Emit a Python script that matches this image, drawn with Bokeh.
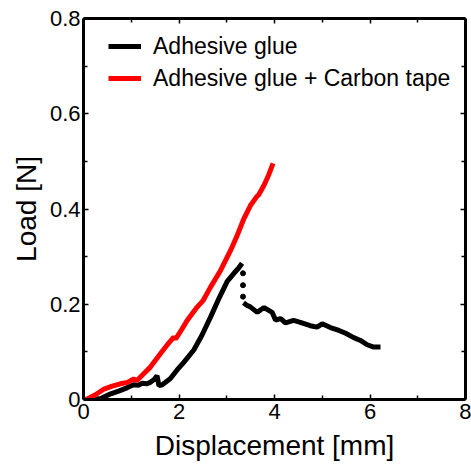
from bokeh.plotting import figure
from bokeh.models import (Range1d, FixedTicker, LinearAxis, Legend, LegendItem,
                          CustomJSTickFormatter)
from bokeh.embed import file_html
from bokeh.resources import INLINE

# ---- data ----
glue_x = [0.0, 0.2, 0.36, 0.57, 0.75, 0.92, 1.05, 1.15, 1.23, 1.32, 1.40, 1.48, 1.54, 1.58, 1.65,
          1.82, 1.96, 2.10, 2.31, 2.48, 2.66, 2.84, 3.01, 3.15, 3.25, 3.32]
glue_y = [0.0, 0.0, 0.002, 0.012, 0.018, 0.025, 0.031, 0.030, 0.034, 0.033, 0.036, 0.042, 0.050, 0.029, 0.031,
          0.044, 0.062, 0.078, 0.104, 0.135, 0.173, 0.213, 0.248, 0.265, 0.276, 0.286]
drop_x = [3.34, 3.34, 3.34]
drop_y = [0.265, 0.240, 0.216]
tail_x = [3.35, 3.42, 3.50, 3.64, 3.72, 3.78, 3.88, 3.95, 4.02, 4.13, 4.23, 4.40, 4.54, 4.75,
          4.89, 5.00, 5.17, 5.35, 5.49, 5.66, 5.80, 5.94, 6.08, 6.22]
tail_y = [0.203, 0.198, 0.194, 0.183, 0.189, 0.193, 0.187, 0.183, 0.167, 0.170, 0.161, 0.166, 0.162, 0.155,
          0.152, 0.159, 0.151, 0.145, 0.139, 0.130, 0.124, 0.115, 0.110, 0.110]

tape_x = [0.0, 0.08, 0.25, 0.43, 0.60, 0.77, 0.92, 1.05, 1.12, 1.25, 1.40, 1.61, 1.78, 1.89, 1.93,
          2.05, 2.17, 2.38, 2.50, 2.66, 2.87, 3.08, 3.20, 3.36, 3.50, 3.62, 3.67, 3.78, 3.88, 3.97]
tape_y = [0.0, 0.001, 0.010, 0.022, 0.028, 0.033, 0.036, 0.043, 0.040, 0.053, 0.068, 0.096, 0.118, 0.131, 0.127,
          0.146, 0.166, 0.194, 0.207, 0.236, 0.271, 0.313, 0.340, 0.380, 0.408, 0.425, 0.430, 0.450, 0.472, 0.496]

x_ticks = [0, 2, 4, 6, 8]
x_minor = [1, 3, 5, 7]
y_ticks = [0, 0.2, 0.4, 0.6, 0.8]
y_minor = [0.1, 0.3, 0.5, 0.7]

FONT = "Liberation Sans"

p = figure(width=471, height=469, output_backend="svg", toolbar_location=None,
           x_range=Range1d(0, 8), y_range=Range1d(0, 0.8),
           min_border_left=83, min_border_right=6, min_border_top=18, min_border_bottom=70,
           x_axis_label="Displacement [mm]", y_axis_label="Load [N]")
p.grid.visible = False
p.outline_line_color = None
p.background_fill_color = "white"
p.border_fill_color = "white"

fmt = CustomJSTickFormatter(code="return String(Math.round(tick*10)/10);")

def style_axis(ax, ticks, minor, labels=True):
    ax.ticker = FixedTicker(ticks=ticks, minor_ticks=minor)
    ax.axis_line_width = 3
    ax.axis_line_color = "black"
    ax.major_tick_in = 5
    ax.major_tick_out = 0
    ax.minor_tick_in = 4
    ax.minor_tick_out = 0
    ax.major_tick_line_width = 1.5
    ax.minor_tick_line_width = 1.5
    ax.major_tick_line_color = "black"
    ax.minor_tick_line_color = "black"
    ax.formatter = fmt
    if labels:
        ax.major_label_text_font = FONT
        ax.major_label_text_font_size = "22px"
        ax.major_label_text_color = "black"
        ax.axis_label_text_font = FONT
        ax.axis_label_text_font_size = "28px"
        ax.axis_label_text_font_style = "normal"
        ax.axis_label_text_color = "black"
    else:
        ax.major_label_text_font_size = "0px"
        ax.major_label_text_alpha = 0
        ax.major_label_standoff = 0
        ax.axis_label_standoff = 0

style_axis(p.xaxis[0], x_ticks, x_minor)
style_axis(p.yaxis[0], y_ticks, y_minor)
p.xaxis[0].major_label_standoff = 4
p.xaxis[0].axis_label_standoff = 8
p.yaxis[0].major_label_standoff = 3
p.yaxis[0].axis_label_standoff = 5

top = LinearAxis()
right = LinearAxis()
style_axis(top, x_ticks, x_minor, labels=False)
style_axis(right, y_ticks, y_minor, labels=False)
p.add_layout(top, "above")
p.add_layout(right, "right")

r_glue = p.line(glue_x, glue_y, line_color="black", line_width=5)
p.scatter(drop_x, drop_y, size=5, color="black")
p.line(tail_x, tail_y, line_color="black", line_width=5)
r_tape = p.line(tape_x, tape_y, line_color="red", line_width=5)

legend = Legend(items=[LegendItem(label="Adhesive glue", renderers=[r_glue]),
                       LegendItem(label="Adhesive glue + Carbon tape", renderers=[r_tape])],
                location=(25, 306))
legend.border_line_color = None
legend.background_fill_alpha = 0
legend.padding = 0
legend.margin = 0
legend.spacing = 2
legend.glyph_width = 33
legend.glyph_height = 30
legend.label_height = 30
legend.label_standoff = 12
legend.label_text_font = FONT
legend.label_text_font_size = "23px"
legend.label_text_color = "black"
p.add_layout(legend, "center")

open("out.html", "w").write(file_html(p, INLINE))
